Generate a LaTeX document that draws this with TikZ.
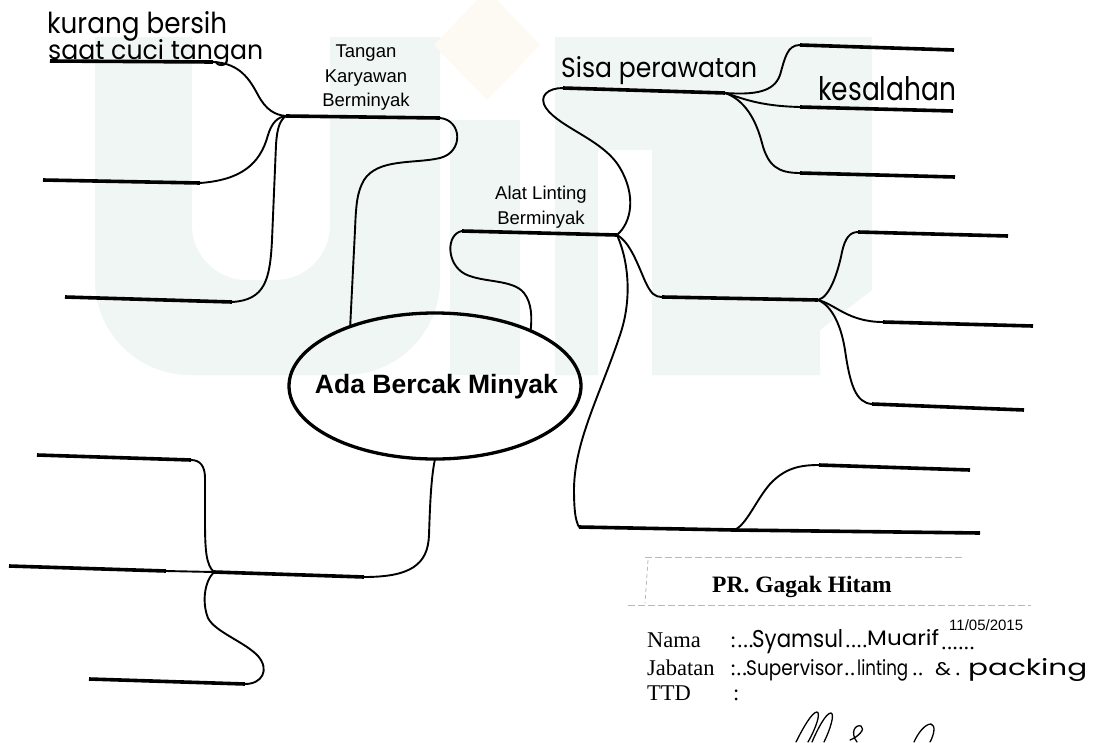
\documentclass[tikz,border=0pt]{standalone}
\usepackage{graphicx}
\usepackage{fontspec}
\setmainfont{Liberation Serif}
\newfontfamily\arialfont{Liberation Sans}
\newfontfamily\handfont{Poppins}
\usetikzlibrary{shapes.geometric}
\definecolor{wmteal}{RGB}{240,246,243}
\definecolor{wmgold}{RGB}{252,250,242}
\definecolor{stampgray}{RGB}{185,185,185}
% handwritten words, stretched to a given width and height
\newcommand{\handfit}[3]{\resizebox{#1}{#2}{\handfont #3}}
\begin{document}
\begin{tikzpicture}[x=1pt,y=-1pt,
  bar/.style={line width=3.6pt},
  stem/.style={line width=1.9pt, line cap=round, line join=round},
  sig/.style={line width=1.3pt, line cap=round},
  printlbl/.style={font=\arialfont\fontsize{18.5}{24.5}\selectfont, align=center, inner sep=0pt, anchor=north},
  hand/.style={inner sep=0pt, anchor=base west},
  formtxt/.style={font=\fontsize{22.5}{26}\selectfont, inner sep=0pt, anchor=base west},
]
\useasboundingbox (0,0) rectangle (1095,742);
\fill[white] (0,0) rectangle (1095,742);

% faint background logo
\begin{scope}
  \clip (0,37) rectangle (1095,742);
  \fill[wmteal, rounded corners=95pt] (95,-100) -- (440,-100) -- (440,375) -- (95,375) -- cycle;
  \fill[white, rounded corners=55pt] (192,-100) -- (330,-100) -- (330,280) -- (192,280) -- cycle;
  \fill[wmteal] (450,120) rectangle (520,375);
  \fill[wmteal] (555,37) -- (872,37) -- (872,290) -- (820,330) -- (820,375) -- (555,375) -- cycle;
  \fill[white] (598,150) rectangle (652,380);
\end{scope}
\fill[wmgold] (487,-10) -- (540,45) -- (487,100) -- (434,45) -- cycle;

% central topic
\node[ellipse, draw, line width=3.3pt, minimum width=292pt, minimum height=146pt,
      inner sep=0pt, outer sep=0pt] (core) at (435,386) {};
\node[font=\arialfont\bfseries\fontsize{26.5}{30}\selectfont, inner sep=0pt, anchor=base]
      (coretxt) at (436.5,393) {Ada Bercak Minyak};

% ---------- upper left: Tangan Karyawan Berminyak ----------
\coordinate (J1) at (286,116);
\coordinate (tkE) at (440,118);
\coordinate (kbE) at (213,62);  \coordinate (kbW) at (50,61);
\coordinate (l2E) at (200,183); \coordinate (l2W) at (43,180);
\coordinate (l3E) at (232,302); \coordinate (l3W) at (65,297);

\draw[bar] (J1) -- (tkE);
\draw[bar] (kbW) -- (kbE);
\draw[stem] (kbE) .. controls (240,63) and (250,80) .. (258,95) .. controls (266,110) and (275,115) .. (J1);
\draw[bar] (l2W) -- (l2E);
\draw[stem] (l2E) .. controls (240,180) and (260,165) .. (268,135) .. controls (272,122) and (278,117) .. (J1);
\draw[bar] (l3W) -- (l3E);
\draw[stem] (l3E) .. controls (265,300) and (270,280) .. (272,240) -- (276,145) .. controls (277,128) and (280,120) .. (J1);
\draw[stem] (tkE) .. controls (462,120) and (464,152) .. (440,158) .. controls (415,164) and (378,158) .. (364,180)
   .. controls (357,192) and (356,205) .. (355,230) -- (core.145);

\node[printlbl] (lblTK) at (366,45) {Tangan\\Karyawan\\Berminyak};
\node[hand] (hwKB1) at (47,33) {\handfit{180pt}{22pt}{kurang bersih}};
\node[hand] (hwKB2) at (48,59) {\handfit{215pt}{20pt}{saat cuci tangan}};

% ---------- upper right: Alat Linting Berminyak ----------
\coordinate (J2) at (617,235);
\coordinate (alW) at (462,231);
\draw[bar] (alW) -- (J2);
\draw[stem] (alW) .. controls (446,234) and (446,264) .. (465,274) .. controls (483,283) and (513,279) .. (524,293)
   .. controls (532,303) and (532,318) .. (core.30);
\node[printlbl] (lblAL) at (541,186) {Alat Linting\\Berminyak};

% Sisa perawatan
\coordinate (ssW) at (563,88); \coordinate (J3) at (725,93);
\draw[stem] (J2) .. controls (632,222) and (636,195) .. (620,168) .. controls (604,140) and (560,128) .. (546,108)
   .. controls (538,96) and (548,88) .. (ssW);
\draw[bar] (ssW) -- (J3);
\node[hand] (hwSP) at (561,77) {\handfit{196pt}{21pt}{Sisa perawatan}};

\coordinate (r1W) at (800,45);  \coordinate (r1E) at (954,50);
\coordinate (r2W) at (800,107); \coordinate (r2E) at (953,111);
\coordinate (r3W) at (800,173); \coordinate (r3E) at (955,177);
\draw[stem] (J3) .. controls (755,95) and (774,92) .. (780,75) .. controls (785,58) and (787,45) .. (r1W);
\draw[bar] (r1W) -- (r1E);
\draw[stem] (J3) .. controls (742,98) and (758,106) .. (r2W);
\draw[bar] (r2W) -- (r2E);
\draw[stem] (J3) .. controls (745,100) and (756,120) .. (762,143) .. controls (768,166) and (778,173) .. (r3W);
\draw[bar] (r3W) -- (r3E);
\node[hand] (hwKS) at (818,100) {\handfit{138pt}{24pt}{kesalahan}};

% middle right junction
\coordinate (m0W) at (662,297); \coordinate (J4) at (818,300);
\draw[stem] (J2) .. controls (630,242) and (638,265) .. (645,281) .. controls (651,294) and (655,297) .. (m0W);
\draw[bar] (m0W) -- (J4);
\coordinate (r4W) at (858,232); \coordinate (r4E) at (1008,236);
\coordinate (r5W) at (883,322); \coordinate (r5E) at (1033,326);
\coordinate (r6W) at (872,404); \coordinate (r6E) at (1024,410);
\draw[stem] (J4) .. controls (830,297) and (838,272) .. (842,252) .. controls (845,238) and (850,232) .. (r4W);
\draw[bar] (r4W) -- (r4E);
\draw[stem] (J4) .. controls (835,304) and (848,322) .. (r5W);
\draw[bar] (r5W) -- (r5E);
\draw[stem] (J4) .. controls (832,306) and (841,325) .. (845,350) .. controls (850,385) and (856,403) .. (r6W);
\draw[bar] (r6W) -- (r6E);

% lower right junction
\coordinate (bW) at (579,527); \coordinate (J5) at (734,530); \coordinate (bE) at (980,533);
\draw[stem] (J2) .. controls (629,262) and (632,300) .. (620,335) .. controls (600,395) and (575,440) .. (574,488)
   .. controls (574,508) and (575,520) .. (bW);
\draw[bar] (bW) -- (J5) -- (bE);
\coordinate (r7W) at (819,465); \coordinate (r7E) at (970,470);
\draw[stem] (J5) .. controls (746,526) and (756,500) .. (770,484) .. controls (785,468) and (800,465) .. (r7W);
\draw[bar] (r7W) -- (r7E);

% ---------- lower left ----------
\coordinate (lbE) at (364,577); \coordinate (J6) at (214,572);
\draw[stem] (core.south) .. controls (431,478) and (430,505) .. (429,535) .. controls (428,565) and (410,577) .. (lbE);
\draw[bar] (lbE) -- (J6);
\coordinate (l4E) at (191,460); \coordinate (l4W) at (37,455);
\coordinate (l5E) at (166,571); \coordinate (l5W) at (9,566);
\coordinate (l6E) at (245,684); \coordinate (l6W) at (89,679);
\draw[stem] (J6) .. controls (206,565) and (205,550) .. (205,520) -- (205,478) .. controls (205,466) and (200,460) .. (l4E);
\draw[bar] (l4E) -- (l4W);
\draw[stem] (J6) -- (l5E);
\draw[bar] (l5E) -- (l5W);
\draw[stem] (J6) .. controls (204,582) and (202,603) .. (208,618) .. controls (215,632) and (245,642) .. (258,656)
   .. controls (270,670) and (262,684) .. (l6E);
\draw[bar] (l6E) -- (l6W);

% ---------- company stamp ----------
\draw[stampgray, line width=1pt, dash pattern=on 7pt off 3pt] (645,557) -- (963,557);
\draw[stampgray, line width=1pt, dash pattern=on 7pt off 3pt] (628,605) -- (1031,605);
\draw[stampgray, line width=0.8pt, dash pattern=on 4pt off 3pt] (648,560) -- (645,603);
\node[formtxt, font=\bfseries\fontsize{23.5}{26}\selectfont] (stTitle) at (712,592) {PR. Gagak Hitam};

\node[formtxt] (fNama) at (647,647) {Nama};
\node[formtxt] (fJab) at (647,675) {Jabatan};
\node[formtxt] (fTTD) at (647,700) {TTD};
\node[formtxt] (cNama) at (730,647) {:};
\node[formtxt] (cJab) at (730,675) {:};
\node[formtxt] (cTTD) at (733,700) {:};

\node[formtxt] (d1) at (737,647) {...};
\node[hand] (hwNm1) at (752,647) {\handfit{91pt}{18pt}{Syamsul}};
\node[formtxt] (d2) at (845,647) {....};
\node[hand] (hwNm2) at (867,645) {\handfit{72pt}{16pt}{Muarif}};
\node[formtxt] (d3) at (941,649) {......};
\node[font=\arialfont\fontsize{15}{18}\selectfont, inner sep=0pt, anchor=base west] (fDate) at (949,630) {11/05/2015};

\node[formtxt] (d4) at (736,675) {..};
\node[hand] (hwJb1) at (746,675) {\handfit{97pt}{16pt}{Supervisor}};
\node[formtxt] (d5) at (844,675) {..};
\node[hand] (hwJb2) at (857,675) {\handfit{51pt}{16pt}{linting}};
\node[formtxt] (d6) at (912,675) {..};
\node[hand] (hwJb3) at (935,675) {\handfit{16pt}{13pt}{\&}};
\node[formtxt] (d7) at (955,675) {.};
\node[hand] (hwJb4) at (968,675) {\handfit{119pt}{17pt}{packing}};

% signature
\draw[sig] (796,742) .. controls (803,728) and (812,712) .. (817,712) .. controls (821,713) and (816,728) .. (808,742);
\draw[sig] (812,742) .. controls (818,728) and (826,713) .. (831,713) .. controls (835,714) and (830,730) .. (824,742);
\draw[sig] (850,740) .. controls (858,737) and (866,729) .. (861,726) .. controls (855,724) and (850,733) .. (857,742);
\draw[sig] (914,742) .. controls (918,733) and (925,724) .. (931,724) .. controls (936,725) and (934,735) .. (930,742);
\end{tikzpicture}
\end{document}
